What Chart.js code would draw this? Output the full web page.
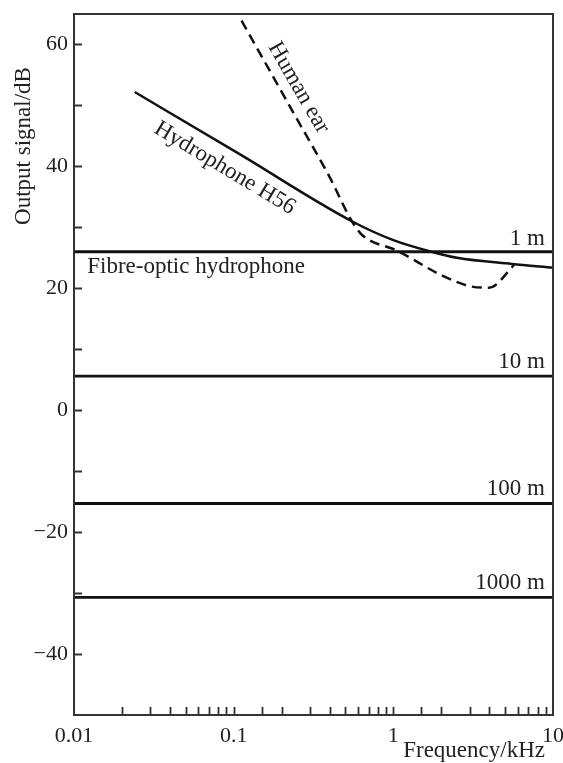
<!DOCTYPE html>
<html>
<head>
<meta charset="utf-8">
<script src="https://cdn.jsdelivr.net/npm/chart.js@4.4.1/dist/chart.umd.min.js"></script>
<style>
  html, body { margin: 0; padding: 0; background: #fff; }
  #wrap { width: 563px; height: 763px; }
</style>
</head>
<body>
<div id="wrap"><canvas id="chart" width="563" height="763"></canvas></div>
<script>
// frequency in kHz, output signal in dB
var h56Freq = [0.024, 0.109, 0.55, 1.0, 1.73, 2.5, 5.5, 10];
var h56Level = [52.2, 42.0, 31.0, 27.9, 26.0, 25.0, 24.0, 23.4];

var earFreq = [0.112, 0.25, 0.4, 0.55, 0.64, 1.05, 2.02, 3.07, 3.98, 5.7];
var earLevel = [63.9, 47.7, 38.2, 31.0, 28.7, 26.2, 22.1, 20.3, 20.1, 23.8];

// fibre-optic hydrophone at several distances
var fibreDistances = ['1 m', '10 m', '100 m', '1000 m'];
var fibreLevel = [26.0, 5.6, -15.3, -30.7];
var fibreFreqRange = [0.01, 10];

var xDecadeLabels = [0.01, 0.1, 1, 10];
var yTickLabels = [-40, -20, 0, 20, 40, 60];

var serif = '"Liberation Serif", "DejaVu Serif", serif';
var ink = '#111';

function toPoints(xs, ys) {
    return xs.map(function (x, i) { return { x: x, y: ys[i] }; });
}

var datasets = [];
fibreLevel.forEach(function (lvl, i) {
    datasets.push({
        label: 'Fibre-optic ' + fibreDistances[i],
        data: toPoints(fibreFreqRange, [lvl, lvl]),
        borderColor: ink,
        borderWidth: 2.8,
        pointRadius: 0,
        tension: 0
    });
});
datasets.push({
    label: 'Hydrophone H56',
    data: toPoints(h56Freq, h56Level),
    borderColor: ink,
    borderWidth: 2.5,
    pointRadius: 0,
    cubicInterpolationMode: 'monotone'
});
datasets.push({
    label: 'Human ear',
    data: toPoints(earFreq, earLevel),
    borderColor: ink,
    borderWidth: 2.5,
    borderDash: [10, 6],
    pointRadius: 0,
    cubicInterpolationMode: 'monotone'
});

// text placed on the plot, positioned in data units (+ pixel nudge)
var notes = [
    { text: 'Fibre-optic hydrophone', x: 0.0121, y: fibreLevel[0], dy: 21, align: 'left', base: 'alphabetic' },
    { text: '1 m', x: 10, y: fibreLevel[0], dx: -8, dy: -7, align: 'right', base: 'alphabetic' },
    { text: '10 m', x: 10, y: fibreLevel[1], dx: -8, dy: -8, align: 'right', base: 'alphabetic' },
    { text: '100 m', x: 10, y: fibreLevel[2], dx: -8, dy: -8, align: 'right', base: 'alphabetic' },
    { text: '1000 m', x: 10, y: fibreLevel[3], dx: -8, dy: -8, align: 'right', base: 'alphabetic' },
    { text: 'Hydrophone H56', x: 0.088, y: 39.7, rot: 31, align: 'center', base: 'middle' },
    { text: 'Human ear', x: 0.255, y: 52.9, rot: 60, align: 'center', base: 'middle' }
];

var framePlugin = {
    id: 'frame',
    afterDatasetsDraw: function (chart) {
        var ctx = chart.ctx, a = chart.chartArea;
        var xs = chart.scales.x, ys = chart.scales.y;
        ctx.save();
        ctx.strokeStyle = '#333';
        ctx.lineWidth = 2;
        ctx.strokeRect(a.left, a.top, a.right - a.left, a.bottom - a.top);

        // inward tick marks
        ctx.lineWidth = 1.8;
        ctx.beginPath();
        xs.ticks.forEach(function (t) {
            if (t.value <= xs.min || t.value >= xs.max) return;
            var px = Math.round(xs.getPixelForValue(t.value)) + 0.5;
            ctx.moveTo(px, a.bottom);
            ctx.lineTo(px, a.bottom - 8);
        });
        ys.ticks.forEach(function (t) {
            if (t.value <= ys.min || t.value >= ys.max) return;
            var py = Math.round(ys.getPixelForValue(t.value)) + 0.5;
            ctx.moveTo(a.left, py);
            ctx.lineTo(a.left + 8, py);
        });
        ctx.stroke();

        // notes
        ctx.fillStyle = '#222';
        ctx.font = '23px ' + serif;
        notes.forEach(function (n) {
            var px = xs.getPixelForValue(n.x) + (n.dx || 0);
            var py = ys.getPixelForValue(n.y) + (n.dy || 0);
            ctx.save();
            ctx.translate(px, py);
            if (n.rot) ctx.rotate(n.rot * Math.PI / 180);
            ctx.textAlign = n.align;
            ctx.textBaseline = n.base;
            ctx.fillText(n.text, 0, 0);
            ctx.restore();
        });

        // axis titles
        ctx.font = '23px ' + serif;
        ctx.textAlign = 'right';
        ctx.textBaseline = 'alphabetic';
        ctx.fillText('Frequency/kHz', 545, 757);
        ctx.save();
        ctx.translate(30, 146);
        ctx.rotate(-Math.PI / 2);
        ctx.textAlign = 'center';
        ctx.fillText('Output signal/dB', 0, 0);
        ctx.restore();
        ctx.restore();
    }
};

new Chart(document.getElementById('chart'), {
    type: 'line',
    data: { datasets: datasets },
    options: {
        responsive: false,
        animation: false,
        layout: { padding: { top: 14, right: 10, left: 0, bottom: 0 } },
        plugins: { legend: { display: false }, tooltip: { enabled: false } },
        scales: {
            x: {
                type: 'logarithmic',
                min: 0.01,
                max: 10,
                grid: { display: false, drawTicks: false },
                border: { display: false },
                ticks: {
                    autoSkip: false,
                    maxRotation: 0,
                    padding: 8,
                    color: '#222',
                    font: { family: serif, size: 22 },
                    callback: function (v) {
                        return xDecadeLabels.indexOf(Number(v)) >= 0 ? String(Number(v)) : '';
                    }
                },
                afterFit: function (s) {
                    s.height = 48;
                    s.paddingLeft = 0;
                    s.paddingRight = 0;
                }
            },
            y: {
                min: -50,
                max: 65,
                grid: { display: false, drawTicks: false },
                border: { display: false },
                ticks: {
                    stepSize: 10,
                    padding: 6,
                    color: '#222',
                    font: { family: serif, size: 22 },
                    callback: function (v) {
                        if (yTickLabels.indexOf(v) < 0) return '';
                        return v < 0 ? '\u2212' + Math.abs(v) : String(v);
                    }
                },
                afterFit: function (s) {
                    s.width = 74;
                    s.paddingTop = 0;
                    s.paddingBottom = 0;
                }
            }
        }
    },
    plugins: [framePlugin]
});
</script>
</body>
</html>
